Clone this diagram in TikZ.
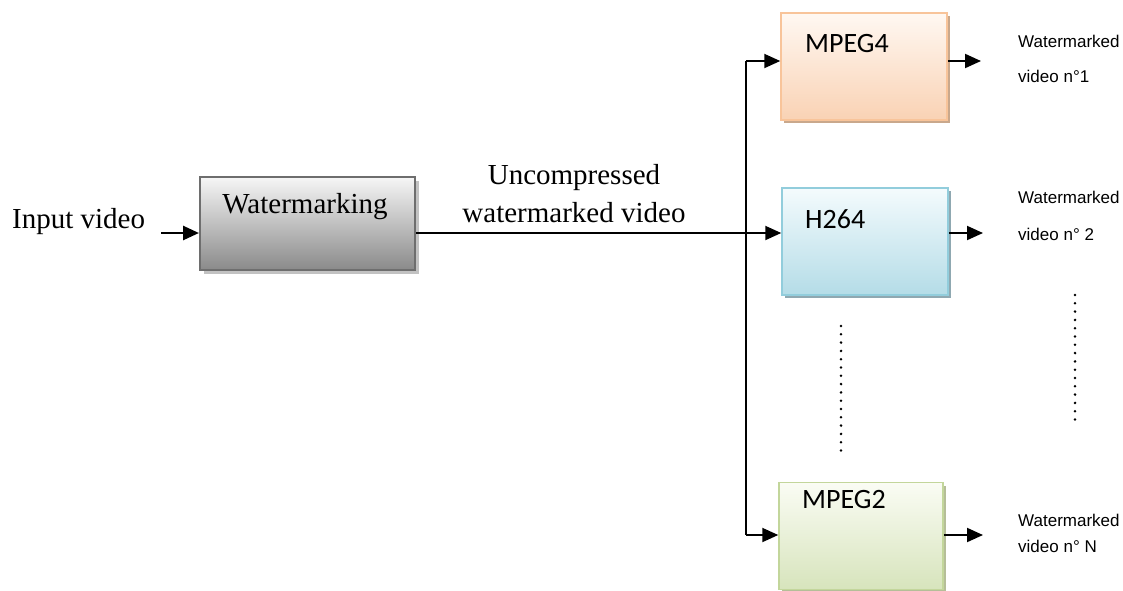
\documentclass[tikz,border=0pt]{standalone}
\usepackage{fontspec}
\setmainfont{Liberation Serif}
\newfontfamily\calfont{Carlito}
\newfontfamily\arfont{Liberation Sans}
\usetikzlibrary{arrows.meta,shadows}
\definecolor{wmtop}{HTML}{F6F6F6}
\definecolor{wmbot}{HTML}{8A8A8A}
\definecolor{wmline}{HTML}{6E6E6E}
\definecolor{wmshadow}{HTML}{C2C2C2}
\definecolor{mp4top}{HTML}{FFF8F2}
\definecolor{mp4bot}{HTML}{F9D2B4}
\definecolor{mp4line}{HTML}{F8C49A}
\definecolor{mp4shadow}{HTML}{C9A88C}
\definecolor{h264top}{HTML}{F4FBFD}
\definecolor{h264bot}{HTML}{B4DCE7}
\definecolor{h264line}{HTML}{92CDDC}
\definecolor{h264shadow}{HTML}{8FA8B1}
\definecolor{mp2top}{HTML}{FAFCF4}
\definecolor{mp2bot}{HTML}{D7E4BC}
\definecolor{mp2line}{HTML}{C3D69B}
\definecolor{mp2shadow}{HTML}{B5BE98}
\begin{document}
\begin{tikzpicture}[x=1pt,y=-1pt,
  box/.style={rectangle, inner sep=0pt, minimum height=107pt},
  arr/.style={line width=2pt, -{Triangle[length=16pt,width=14pt]}},
  serifbig/.style={inner sep=0pt, font=\fontsize{29}{38}\selectfont},
  codec/.style={inner sep=0pt, anchor=west, font=\calfont\fontsize{28}{34}\selectfont},
  outlbl/.style={inner sep=0pt, anchor=base west, font=\arfont\fontsize{17}{20}\selectfont},
  dots/.style={line width=2.8pt, line cap=round, dash pattern=on 0pt off 8.3pt}]
\useasboundingbox (0,0) rectangle (1123,590);
\fill[white] (0,0) rectangle (1123,590);

% boxes
\node[box, minimum width=215pt, minimum height=93pt, draw=wmline, line width=2pt,
      top color=wmtop, bottom color=wmbot,
      drop shadow={shadow xshift=4pt, shadow yshift=-4pt, fill=wmshadow, opacity=1}]
      (wm) at (307.5,223.5) {};
\node[box, minimum width=166pt, draw=mp4line, line width=1.5pt,
      top color=mp4top, bottom color=mp4bot,
      drop shadow={shadow xshift=3pt, shadow yshift=-3pt, fill=mp4shadow, opacity=1}]
      (mpeg4) at (864,66.5) {};
\node[box, minimum width=166pt, draw=h264line, line width=1.5pt,
      top color=h264top, bottom color=h264bot,
      drop shadow={shadow xshift=3pt, shadow yshift=-3pt, fill=h264shadow, opacity=1}]
      (h264) at (865,241.5) {};
\node[box, minimum width=164pt, draw=mp2line, line width=1.5pt,
      top color=mp2top, bottom color=mp2bot,
      drop shadow={shadow xshift=3pt, shadow yshift=-3pt, fill=mp2shadow, opacity=1}]
      (mpeg2) at (861,536) {};

% texts
\node[serifbig, anchor=west] (inlbl) at (12,222) {Input video};
\node[serifbig] (wmtxt) at (305,207) {Watermarking};
\node[serifbig, align=center] (unc) at (574,194) {Uncompressed\\watermarked video};
\node[codec] (t4) at (805,44) {MPEG4};
\node[codec] (t264) at (805,219) {H264};
\node[codec] (t2) at (802,499) {MPEG2};

\node[outlbl] (w1) at (1018,47) {Watermarked};
\node[outlbl] (v1) at (1018,82) {video n°1};
\node[outlbl] (w2) at (1018,203) {Watermarked};
\node[outlbl] (v2) at (1018,240) {video n° 2};
\node[outlbl] (w3) at (1018,526) {Watermarked};
\node[outlbl] (v3) at (1018,552) {video n° N};

% coordinates
\coordinate (in) at (161,233);
\coordinate (split) at (746,233);
\coordinate (top) at (746,61);
\coordinate (bot) at (746,535);
\coordinate (o1) at (981,61);
\coordinate (o2) at (983,233);
\coordinate (o3) at (983,535);
\coordinate (d1a) at (841,326);
\coordinate (d1b) at (841,452);
\coordinate (d2a) at (1075,295);
\coordinate (d2b) at (1075,420);

% connectors
\draw[arr, line width=2.6pt] (in) -- (in -| wm.west);
\draw[arr] (split -| wm.east) -- (split -| h264.west);
\draw[line width=2pt] (top) -- (bot);
\draw[arr] (top) -- (top -| mpeg4.west);
\draw[arr] (bot) -- (bot -| mpeg2.west);
\draw[arr] (top -| mpeg4.east) -- (o1);
\draw[arr] (split -| h264.east) -- (o2);
\draw[arr] (bot -| mpeg2.east) -- (o3);

% dots
\draw[dots] (d1a) -- (d1b);
\draw[dots] (d2a) -- (d2b);
\end{tikzpicture}
\end{document}
